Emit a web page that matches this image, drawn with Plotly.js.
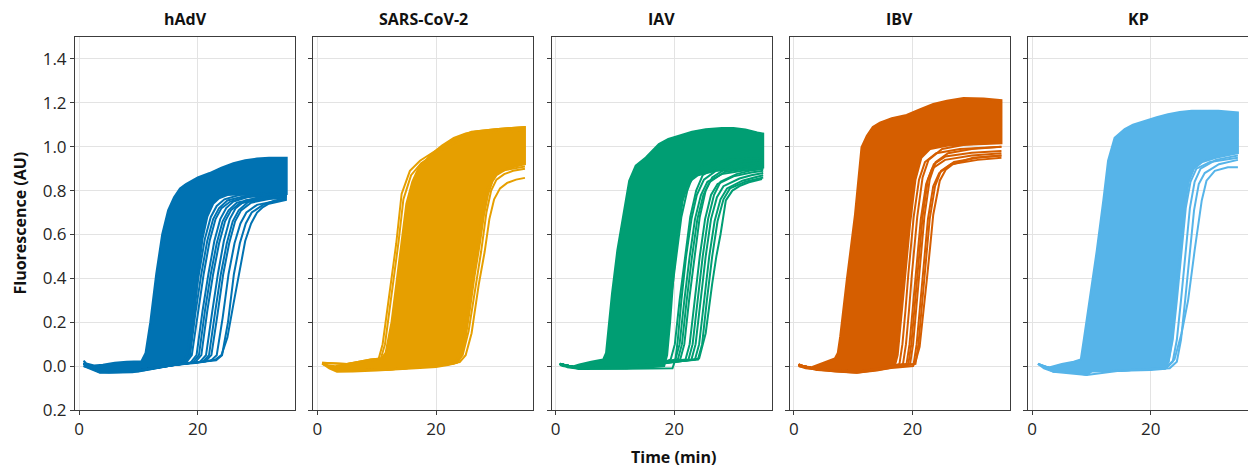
<!DOCTYPE html>
<html>
<head>
<meta charset="utf-8">
<script src="https://cdn.plot.ly/plotly-3.0.1.min.js"></script>
<style>html,body{margin:0;padding:0;background:#fff;}#chart{width:1248px;height:467px;}</style>
</head>
<body>
<div id="chart"></div>
<script>
// ---------------- DATA (time in min, fluorescence in AU) ----------------
const panelTitles = ['hAdV', 'SARS-CoV-2', 'IAV', 'IBV', 'KP'];
const yTickVals = [-0.2, 0, 0.2, 0.4, 0.6, 0.8, 1.0, 1.2, 1.4];
const yTickText = ['0.2', '0.0', '0.2', '0.4', '0.6', '0.8', '1.0', '1.2', '1.4'];
const xTickVals = [0, 20];
const xTickText = ['0', '20'];
const xTitle = 'Time (min)';
const yTitle = 'Fluorescence (AU)';

// hAdV: earliest curve (upper/left envelope), edge of dense bundle, later separate curves
const hAdV_early = [[0.75,0.025],[1.2,0.012],[2.5,0.003],[4,0.006],[6,0.015],[8,0.02],[10.5,0.022],[11.2,0.06],[12,0.2],[13,0.42],[14,0.6],[15,0.71],[16,0.77],[17,0.81],[18,0.83],[20,0.86],[22,0.88],[24,0.905],[26,0.925],[28,0.938],[30,0.946],[32,0.95],[35,0.95]];
const hAdV_edge = [[0.75,0.0],[2,-0.01],[3.5,-0.028],[5,-0.03],[9,-0.028],[11,-0.02],[14,-0.005],[16,0.005],[17.8,0.01],[18.6,0.05],[19.3,0.2],[20.0,0.4],[20.8,0.58],[21.6,0.68],[22.6,0.74],[23.6,0.765],[25,0.78],[28,0.785],[35,0.785]];
const hAdV_late1 = [[0.75,0.01],[4,-0.02],[10,-0.02],[16,0.005],[17.2,0.012],[18.2,0.05],[19.2,0.24],[20.2,0.42],[21.2,0.58],[22.2,0.68],[23.2,0.73],[24.5,0.76],[27,0.78],[35,0.79]];
const hAdV_late2 = [[0.75,0.01],[4,-0.02],[10,-0.02],[16,0.006],[18,0.015],[19,0.05],[20,0.24],[21,0.42],[22,0.57],[23,0.67],[24,0.72],[25.5,0.75],[28,0.77],[35,0.78]];
const hAdV_late3 = [[0.75,0.01],[4,-0.02],[10,-0.02],[16,0.006],[18.8,0.016],[19.8,0.05],[20.8,0.25],[21.8,0.42],[22.8,0.57],[23.8,0.67],[24.8,0.72],[26,0.75],[29,0.775],[35,0.785]];
const hAdV_late4 = [[0.75,0.01],[4,-0.02],[10,-0.02],[16,0.006],[19.6,0.018],[20.6,0.05],[21.6,0.25],[22.6,0.42],[23.6,0.56],[24.6,0.66],[25.6,0.71],[27,0.74],[30,0.76],[35,0.77]];
const hAdV_late5 = [[0.75,0.01],[4,-0.02],[10,-0.02],[16,0.006],[20.4,0.02],[21.4,0.05],[22.4,0.24],[23.4,0.42],[24.4,0.57],[25.4,0.67],[26.4,0.72],[28,0.755],[31,0.772],[35,0.78]];
const hAdV_late6 = [[0.75,0.01],[4,-0.02],[10,-0.02],[16,0.006],[21.3,0.022],[22.3,0.05],[23.3,0.23],[24.3,0.42],[25.3,0.56],[26.3,0.66],[27.3,0.71],[29,0.745],[32,0.762],[35,0.77]];
const hAdV_late7 = [[0.75,0.01],[4,-0.02],[10,-0.02],[16,0.006],[22.2,0.025],[23.2,0.05],[24.2,0.22],[25.2,0.42],[26.2,0.56],[27.2,0.65],[28.2,0.70],[30,0.735],[33,0.752],[35,0.76]];
const hAdV_late8 = [[0.75,0.0],[3.5,-0.03],[10,-0.025],[16,0.005],[20,0.015],[23,0.03],[24,0.05],[25,0.13],[26,0.28],[27,0.42],[28,0.57],[29,0.65],[30,0.70],[31,0.725],[32,0.74],[35,0.758]];
const hAdV_late9 = [[0.75,0.01],[4,-0.02],[10,-0.02],[16,0.006],[17.8,0.014],[18.7,0.05],[19.6,0.24],[20.6,0.42],[21.6,0.57],[22.6,0.67],[23.6,0.72],[25,0.755],[28,0.775],[35,0.785]];
const hAdV_late10 = [[0.75,0.01],[4,-0.02],[10,-0.02],[16,0.006],[19.2,0.017],[20.2,0.05],[21.2,0.25],[22.2,0.42],[23.2,0.56],[24.2,0.66],[25.2,0.71],[26.6,0.745],[30,0.765],[35,0.775]];
const hAdV_late11 = [[0.75,0.01],[4,-0.02],[10,-0.02],[16,0.006],[20.9,0.021],[21.9,0.05],[22.9,0.24],[23.9,0.42],[24.9,0.56],[25.9,0.66],[26.9,0.71],[28.5,0.748],[32,0.766],[35,0.775]];
const hAdV_late12 = [[0.75,0.01],[4,-0.02],[10,-0.02],[16,0.006],[23.1,0.027],[24.1,0.05],[25.1,0.2],[26.1,0.42],[27.1,0.56],[28.1,0.65],[29.1,0.70],[31,0.735],[33,0.755],[35,0.765]];

// SARS-CoV-2
const sars_early = [[0.8,0.015],[1.5,0.005],[3,0.0],[5,0.01],[7,0.02],[9,0.03],[10.8,0.035],[11.5,0.06],[12.5,0.2],[13.5,0.42],[14.3,0.6],[15,0.74],[16,0.84],[17,0.9],[18,0.93],[19,0.96],[21,1.005],[23,1.04],[25,1.06],[27,1.07],[30,1.08],[33,1.085],[35,1.09]];
const sars_edge = [[0.8,0.012],[2,-0.01],[3.3,-0.026],[6,-0.025],[10,-0.02],[14,-0.015],[18,-0.008],[20,-0.004],[22,0.005],[23.5,0.015],[24.2,0.04],[25,0.13],[25.7,0.255],[26.5,0.41],[27.4,0.56],[28.1,0.69],[28.8,0.785],[29.5,0.84],[30.2,0.87],[32,0.9],[35,0.92]];
const sars_lead1 = [[0.8,0.015],[5,0.01],[9,0.025],[10.3,0.03],[11,0.1],[11.8,0.255],[12.6,0.42],[13.3,0.56],[14.2,0.785],[15.6,0.89],[17.3,0.936],[19,0.965],[21,1.0],[23,1.035],[26,1.068],[30,1.08],[35,1.09]];
const sars_lead2 = [[0.8,0.015],[5,0.01],[9,0.03],[10.7,0.035],[11.4,0.1],[12.2,0.26],[13.0,0.42],[13.7,0.57],[14.5,0.76],[15.8,0.87],[17.5,0.925],[20,0.97],[24,1.03],[28,1.06],[35,1.075]];
const sars_late1 = [[0.8,0.01],[4,-0.02],[12,-0.015],[20,0.0],[23.5,0.015],[24.5,0.05],[25.5,0.16],[26.6,0.35],[27.6,0.52],[28.5,0.7],[29.3,0.8],[30.2,0.85],[31.5,0.875],[33,0.89],[35,0.9]];
const sars_late2 = [[0.8,0.01],[4,-0.02],[12,-0.015],[20,0.0],[24,0.018],[25,0.05],[26,0.15],[27.2,0.37],[28.2,0.52],[29,0.67],[29.8,0.76],[30.8,0.81],[32,0.835],[33.5,0.85],[35,0.858]];
const sars_late3 = [[0.8,0.01],[4,-0.02],[12,-0.015],[20,0.0],[23,0.012],[24,0.05],[25,0.17],[26,0.38],[27,0.53],[27.8,0.7],[28.6,0.8],[29.6,0.86],[31,0.89],[35,0.91]];

// IAV
const iav_early = [[0.7,0.01],[1.2,0.0],[2.5,-0.005],[4,0.008],[6,0.02],[8,0.03],[8.5,0.06],[9,0.2],[9.5,0.33],[10.4,0.527],[11.5,0.71],[12.4,0.845],[13.5,0.914],[15.2,0.951],[17.4,1.012],[19,1.035],[20.8,1.05],[23,1.068],[25.3,1.08],[28,1.085],[30,1.085],[32,1.078],[34,1.065],[35,1.06]];
const iav_edge = [[0.7,0.012],[2,-0.005],[3.9,-0.012],[8,-0.012],[12,-0.01],[16,-0.005],[18.3,0.0],[18.8,0.05],[19.3,0.2],[19.9,0.42],[20.6,0.6],[21.4,0.75],[22.2,0.82],[23,0.85],[24,0.87],[27,0.89],[35,0.905]];
const iav_late1 = [[0.7,0.01],[4,-0.01],[12,-0.005],[17,0.01],[18,0.03],[18.6,0.1],[19.4,0.3],[20.3,0.5],[21.2,0.68],[22.2,0.8],[23.3,0.88],[25,0.92],[29,0.94],[35,0.95]];
const iav_late2 = [[0.7,0.01],[4,-0.012],[12,-0.012],[19.7,-0.01],[20.2,0.03],[20.6,0.12],[21.2,0.3],[22.0,0.5],[22.9,0.67],[23.8,0.78],[25,0.85],[27,0.89],[31,0.91],[35,0.92]];
const iav_late3 = [[0.7,0.01],[4,-0.01],[12,-0.005],[18,0.015],[19.4,0.03],[20.1,0.1],[20.9,0.3],[21.8,0.5],[22.7,0.68],[23.7,0.8],[24.8,0.87],[27,0.91],[31,0.93],[35,0.94]];
const iav_late4 = [[0.7,0.01],[4,-0.01],[12,-0.005],[18,0.015],[20.2,0.03],[20.9,0.1],[21.7,0.3],[22.6,0.5],[23.5,0.67],[24.5,0.78],[25.6,0.84],[28,0.875],[32,0.893],[35,0.9]];
const iav_late5 = [[0.7,0.01],[4,-0.01],[12,-0.005],[18,0.015],[21,0.03],[21.7,0.1],[22.5,0.3],[23.4,0.5],[24.3,0.68],[25.3,0.8],[26.4,0.86],[29,0.905],[32,0.92],[35,0.93]];
const iav_late6 = [[0.7,0.01],[4,-0.01],[12,-0.005],[18,0.015],[21.9,0.03],[22.6,0.1],[23.4,0.3],[24.3,0.5],[25.2,0.67],[26.2,0.78],[27.3,0.83],[30,0.865],[33,0.882],[35,0.89]];
const iav_late7 = [[0.7,0.01],[4,-0.01],[12,-0.005],[18,0.015],[22.9,0.03],[23.6,0.1],[24.4,0.3],[25.3,0.5],[26.2,0.67],[27.2,0.77],[28.3,0.82],[31,0.855],[33,0.87],[35,0.88]];
const iav_late8 = [[0.7,0.005],[4,-0.012],[12,-0.01],[18,0.01],[22,0.025],[24.2,0.035],[25.3,0.15],[26.4,0.376],[27.1,0.5],[27.8,0.6],[28.7,0.755],[29.8,0.8],[31,0.82],[32.6,0.838],[34.8,0.853]];
const iav_late9 = [[0.7,0.01],[4,-0.01],[12,-0.005],[18,0.015],[20.6,0.03],[21.3,0.1],[22.1,0.3],[23.0,0.5],[23.9,0.67],[24.9,0.78],[26,0.84],[28.5,0.885],[32,0.9],[35,0.91]];
const iav_late10 = [[0.7,0.01],[4,-0.01],[12,-0.005],[18,0.015],[22.4,0.03],[23.1,0.1],[23.9,0.3],[24.8,0.5],[25.7,0.67],[26.7,0.78],[27.8,0.84],[30.5,0.875],[33,0.892],[35,0.9]];
const iav_late11 = [[0.7,0.01],[4,-0.01],[12,-0.005],[18,0.015],[23.5,0.03],[24.2,0.1],[25,0.3],[25.9,0.5],[26.8,0.66],[27.8,0.76],[28.9,0.81],[31.5,0.845],[33.5,0.86],[35,0.87]];
const iav_late12 = [[0.7,0.01],[4,-0.01],[12,-0.005],[18,0.015],[24,0.03],[24.7,0.1],[25.5,0.3],[26.4,0.5],[27.3,0.66],[28.3,0.76],[29.4,0.81],[32,0.84],[35,0.86]];

// IBV
const ibv_early = [[0.8,0.01],[1.3,0.0],[3,-0.005],[5,0.015],[6.9,0.035],[7.4,0.06],[7.8,0.133],[8.9,0.39],[10.3,0.69],[11.4,0.997],[12.3,1.05],[13.3,1.09],[14.5,1.11],[16.5,1.13],[19,1.145],[21.2,1.17],[23.5,1.195],[25.8,1.21],[28.6,1.222],[32,1.22],[35,1.212]];
const ibv_edge = [[0.8,0.0],[2,-0.01],[4.4,-0.018],[7,-0.025],[10.6,-0.03],[14,-0.02],[16,-0.01],[17,0.0],[17.5,0.05],[18.1,0.2],[18.8,0.42],[19.6,0.65],[20.5,0.85],[21.5,0.95],[23,0.99],[26,1.005],[30,1.01],[35,1.015]];
const ibv_late1 = [[0.8,0.005],[4,-0.015],[11,-0.025],[16,-0.005],[17.8,0.01],[18.3,0.1],[18.8,0.25],[19.3,0.42],[20.2,0.68],[21.1,0.85],[22.1,0.93],[24,0.97],[28,0.99],[35,1.0]];
const ibv_late2 = [[0.8,0.005],[4,-0.015],[11,-0.025],[16,-0.005],[18.4,0.01],[18.9,0.1],[19.4,0.25],[19.9,0.42],[20.8,0.68],[21.7,0.86],[22.7,0.94],[25,0.99],[29,1.01],[35,1.02]];
const ibv_late3 = [[0.8,0.005],[4,-0.015],[11,-0.025],[16,-0.005],[19,0.01],[19.5,0.1],[20,0.25],[20.5,0.42],[21.4,0.67],[22.3,0.83],[23.3,0.9],[25.5,0.94],[30,0.96],[35,0.97]];
const ibv_late4 = [[0.8,0.005],[4,-0.015],[11,-0.025],[16,-0.005],[19.6,0.01],[20.1,0.1],[20.6,0.25],[21.1,0.42],[22,0.68],[22.9,0.85],[23.9,0.93],[26,0.97],[30,0.99],[35,1.0]];
const ibv_late5 = [[0.8,0.005],[4,-0.015],[11,-0.025],[16,-0.005],[20.2,0.01],[20.7,0.1],[21.2,0.25],[21.7,0.42],[22.6,0.67],[23.5,0.82],[24.5,0.88],[26.5,0.92],[31,0.94],[35,0.95]];
const ibv_late6 = [[0.8,0.0],[4,-0.018],[10.6,-0.03],[16,-0.01],[20.1,0.0],[20.6,0.03],[21.2,0.088],[21.8,0.23],[22.4,0.39],[23,0.55],[23.5,0.69],[24.6,0.845],[25.6,0.895],[26.8,0.92],[30.2,0.95],[35,0.96]];
const ibv_late7 = [[0.8,0.005],[4,-0.015],[11,-0.025],[16,-0.005],[19.3,0.01],[19.8,0.1],[20.3,0.25],[20.8,0.42],[21.7,0.68],[22.6,0.85],[23.6,0.92],[25.5,0.955],[30,0.972],[35,0.98]];
const ibv_late8 = [[0.8,0.005],[4,-0.015],[11,-0.025],[16,-0.005],[20.5,0.01],[21,0.1],[21.5,0.25],[22,0.42],[22.9,0.67],[23.8,0.82],[24.8,0.89],[27,0.93],[31,0.95],[35,0.96]];

// KP
const kp_early = [[1,0.012],[1.5,0.0],[3,-0.005],[5,0.01],[7,0.02],[8.2,0.03],[8.7,0.12],[9.7,0.3],[10.9,0.527],[12,0.755],[12.8,0.936],[13.9,1.04],[15.6,1.08],[17,1.1],[19,1.118],[21,1.135],[22.9,1.148],[24.9,1.158],[26.9,1.164],[31.4,1.164],[34.7,1.156]];
const kp_edge = [[1,0.01],[2,-0.01],[3.6,-0.026],[7,-0.028],[9.2,-0.04],[10,-0.025],[15,-0.02],[20,-0.018],[22.4,-0.012],[23,0.02],[23.6,0.12],[24.3,0.3],[25,0.52],[25.7,0.72],[26.4,0.84],[27.3,0.9],[28.7,0.93],[31,0.95],[34.7,0.97]];
const kp_late1 = [[1,0.01],[4,-0.02],[15,-0.02],[22,-0.01],[23,0.02],[23.7,0.12],[24.4,0.3],[25.2,0.52],[25.9,0.72],[26.7,0.84],[27.7,0.9],[30,0.93],[34.7,0.95]];
const kp_late2 = [[1,0.01],[4,-0.02],[15,-0.02],[22.6,-0.01],[23.7,0.02],[24.4,0.12],[25.1,0.3],[25.9,0.52],[26.6,0.72],[27.4,0.84],[28.4,0.9],[31,0.94],[34.7,0.96]];
const kp_late3 = [[1,0.01],[4,-0.02],[15,-0.02],[23.2,-0.01],[24.4,0.02],[25.1,0.12],[25.8,0.3],[26.6,0.52],[27.3,0.71],[28.1,0.83],[29.1,0.88],[31.5,0.92],[34.7,0.94]];
const kp_late4 = [[1,0.01],[3.6,-0.026],[9.2,-0.04],[15,-0.02],[22.4,-0.01],[24,0.03],[25.2,0.15],[26.3,0.3],[27.4,0.527],[28.6,0.755],[29.4,0.845],[30.8,0.89],[33,0.906],[34.7,0.906]];

// ---------------- STYLE ----------------
const panelColors = ['#0072B2', '#E69F00', '#009E73', '#D55E00', '#56B4E9'];
const panels = [
  {early: hAdV_early, edge: hAdV_edge, lines: [hAdV_late1,hAdV_late2,hAdV_late3,hAdV_late4,hAdV_late5,hAdV_late6,hAdV_late7,hAdV_late8,hAdV_late9,hAdV_late10,hAdV_late11,hAdV_late12]},
  {early: sars_early, edge: sars_edge, lines: [sars_lead1,sars_lead2,sars_late1,sars_late2,sars_late3]},
  {early: iav_early, edge: iav_edge, lines: [iav_late1,iav_late2,iav_late3,iav_late4,iav_late5,iav_late6,iav_late7,iav_late8,iav_late9,iav_late10,iav_late11,iav_late12]},
  {early: ibv_early, edge: ibv_edge, lines: [ibv_late1,ibv_late2,ibv_late3,ibv_late4,ibv_late5,ibv_late6,ibv_late7,ibv_late8]},
  {early: kp_early, edge: kp_edge, lines: [kp_late1,kp_late2,kp_late3,kp_late4]}
];

const FONT = '"Open Sans", "Noto Sans", sans-serif';
const W = 1248, H = 467, ML = 75, MR = 0, MT = 37, MB = 57;
const plotW = W - ML - MR;
const panelW = 220, panelStep = 238.25;
const LW = 2;

const traces = [];
const layout = {
  width: W, height: H,
  margin: {l: ML, r: MR, t: MT, b: MB, pad: 0},
  paper_bgcolor: '#ffffff', plot_bgcolor: '#ffffff',
  showlegend: false,
  font: {family: FONT, color: '#262626'},
  annotations: []
};

panels.forEach((p, i) => {
  const xa = i === 0 ? 'x' : 'x' + (i + 1);
  const ya = i === 0 ? 'y' : 'y' + (i + 1);
  const col = panelColors[i];
  const polyX = p.early.map(d => d[0]).concat(p.edge.map(d => d[0]).reverse());
  const polyY = p.early.map(d => d[1]).concat(p.edge.map(d => d[1]).reverse());
  traces.push({
    type: 'scatter', mode: 'lines', x: polyX, y: polyY, xaxis: xa, yaxis: ya,
    fill: 'toself', fillcolor: col, line: {color: col, width: LW, shape: 'linear'},
    hoverinfo: 'skip'
  });
  p.lines.forEach(c => {
    traces.push({
      type: 'scatter', mode: 'lines', x: c.map(d => d[0]), y: c.map(d => d[1]),
      xaxis: xa, yaxis: ya, line: {color: col, width: LW}, hoverinfo: 'skip'
    });
  });
  const d0 = (panelStep * i) / plotW;
  const d1 = Math.min(1, (panelStep * i + panelW) / plotW);
  const axisCommon = {
    showline: true, mirror: true, linecolor: '#3c3c3c', linewidth: 1,
    ticks: 'outside', ticklen: 4, tickwidth: 1, tickcolor: '#3c3c3c',
    showgrid: true, gridcolor: '#e3e3e3', gridwidth: 1, zeroline: false,
    tickfont: {family: FONT, size: 17, color: '#262626'}
  };
  layout[i === 0 ? 'xaxis' : 'xaxis' + (i + 1)] = Object.assign({}, axisCommon, {
    domain: [d0, d1], range: [-0.7, 36.4], anchor: ya,
    tickmode: 'array', tickvals: xTickVals, ticktext: xTickText
  });
  layout[i === 0 ? 'yaxis' : 'yaxis' + (i + 1)] = Object.assign({}, axisCommon, {
    domain: [0, 1], range: [-0.2, 1.5], anchor: xa,
    tickmode: 'array', tickvals: yTickVals, ticktext: yTickText,
    showticklabels: i === 0
  });
  layout.annotations.push({
    text: '<b>' + panelTitles[i] + '</b>', xref: 'paper', yref: 'paper',
    x: (d0 + d1) / 2, y: 1, xanchor: 'center', yanchor: 'bottom', yshift: 5,
    showarrow: false, font: {family: FONT, size: 16, color: '#111111'}
  });
});

layout.annotations.push({
  text: '<b>' + xTitle + '</b>', xref: 'paper', yref: 'paper',
  x: (673 - ML) / plotW, y: 0, xanchor: 'center', yanchor: 'top', yshift: -34,
  showarrow: false, font: {family: FONT, size: 16, color: '#111111'}
});
layout.annotations.push({
  text: '<b>' + yTitle + '</b>', xref: 'paper', yref: 'paper',
  x: 0, y: 0.5, xanchor: 'center', yanchor: 'middle', xshift: -56, textangle: -90,
  showarrow: false, font: {family: FONT, size: 16, color: '#111111'}
});

Plotly.newPlot('chart', traces, layout, {staticPlot: true, displayModeBar: false});
</script>
</body>
</html>
